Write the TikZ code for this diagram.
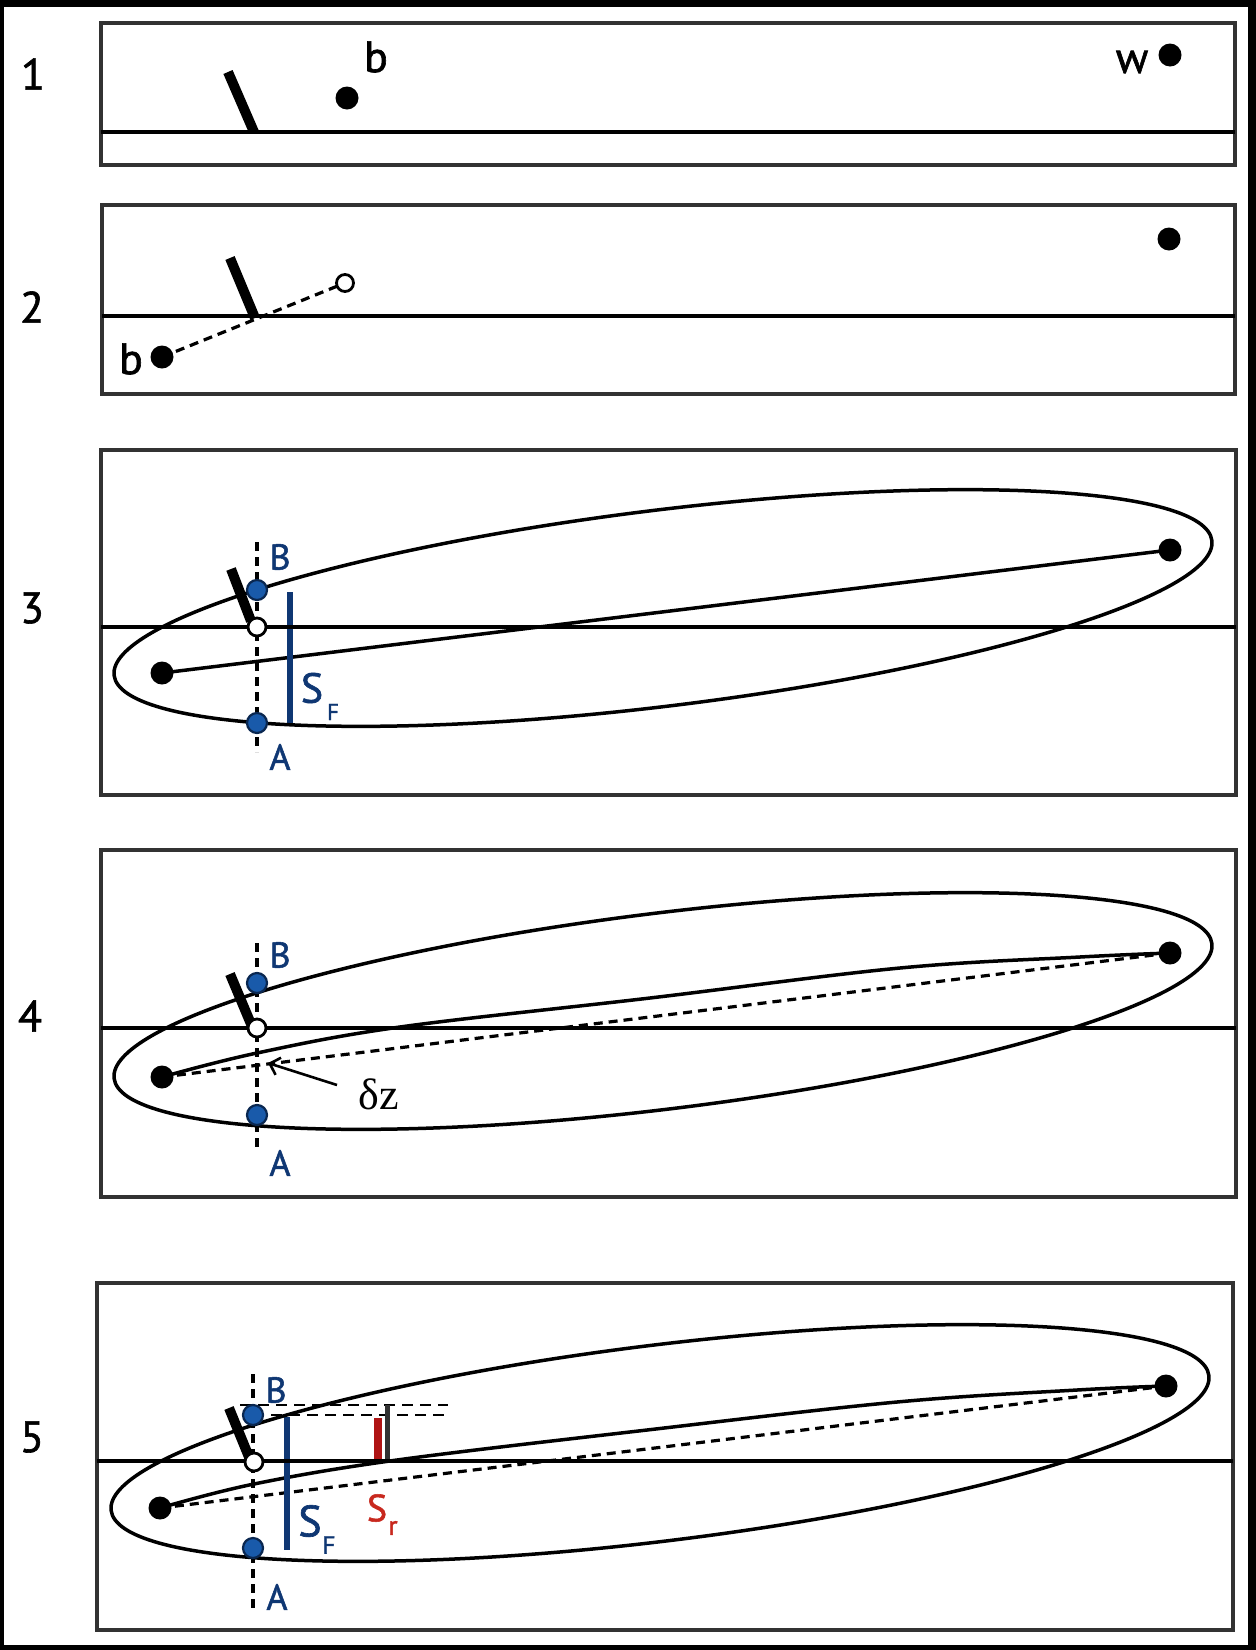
\documentclass[tikz,border=0pt]{standalone}
\usepackage{fontspec}
\setmainfont[FakeBold=1.4]{PT Sans}
\newfontfamily\serifgr{Liberation Serif}
\usetikzlibrary{arrows.meta}
\pgfdeclarelayer{back}
\pgfdeclarelayer{bg}
\pgfsetlayers{back,bg,main}
\definecolor{navy}{RGB}{15,55,115}
\definecolor{dotblue}{RGB}{25,90,170}
\definecolor{srred}{RGB}{200,40,30}
\definecolor{barred}{RGB}{175,20,20}
\definecolor{framegray}{RGB}{50,50,50}
\begin{document}
\begin{tikzpicture}[x=1pt,y=-1pt,
 panelbox/.style={draw=framegray,line width=3.8pt},
 hline/.style={line width=3.5pt},
 barrier/.style={line width=10pt},
 blackdot/.style={circle,fill=black,inner sep=0pt,minimum size=23pt},
 opendot/.style={circle,draw=black,fill=white,line width=2.8pt,inner sep=0pt,minimum size=18pt},
 bluedot/.style={circle,draw=navy!70!black,fill=dotblue,line width=2.2pt,inner sep=0pt,minimum size=20pt},
 dline/.style={line width=3.2pt,dash pattern=on 9pt off 6pt},
 hdline/.style={line width=2.8pt,dash pattern=on 11pt off 7pt},
 ell/.style={line width=3.5pt},
 lbl/.style={inner sep=0pt,font=\fontsize{44}{50}\selectfont},
 blbl/.style={inner sep=0pt,text=navy,font=\fontsize{36}{40}\selectfont},
 slbl/.style={inner sep=0pt,font=\fontsize{42}{46}\selectfont},
 sublbl/.style={inner sep=0pt,font=\fontsize{23}{25}\selectfont},
 sfbar/.style={draw=navy,line width=6.5pt},
]
\useasboundingbox (0,0) rectangle (1256,1650);
\begin{pgfonlayer}{back}
\fill[black] (0,0) rectangle (1256,1650);
\fill[white] (4,7) rectangle (1248,1645);
\end{pgfonlayer}

% ---------------- panel boxes and surface lines
\draw[panelbox] (101,23) rectangle (1235,165);
\draw[hline] (101,132) -- (1235,132);
\draw[panelbox] (102,205) rectangle (1235,394);
\draw[hline] (102,316) -- (1235,316);
\draw[panelbox] (101,450) rectangle (1236,795);
\draw[hline] (101,627) -- (1236,627);
\draw[panelbox] (101,850) rectangle (1236,1197);
\draw[hline] (101,1028) -- (1236,1028);
\draw[panelbox] (97,1283) rectangle (1233,1630);
\draw[hline] (97,1461) -- (1233,1461);

% ---------------- ellipses
\begin{scope}[shift={(663,608)},rotate=7]
 \draw[ell] (0,0) ellipse [x radius=553, y radius=98];
\end{scope}
\begin{scope}[shift={(663,1011)},rotate=7]
 \draw[ell] (0,0) ellipse [x radius=553, y radius=98];
\end{scope}
\begin{scope}[shift={(660,1443)},rotate=7]
 \draw[ell] (0,0) ellipse [x radius=553, y radius=98];
\end{scope}

% ---------------- panel numbers
\node[lbl] (n1) at (33,74) {1};
\node[lbl] (n2) at (32,307) {2};
\node[lbl] (n3) at (32,608) {3};
\node[lbl] (n4) at (30,1016) {4};
\node[lbl] (n5) at (32,1437) {5};

% ---------------- panel 1
\node[blackdot] (b1) at (347,98) {};
\node[blackdot] (w1) at (1170,55) {};
\node[lbl] (lb1) at (376,57) {b};
\node[lbl] (lw1) at (1132,62) {w};
\coordinate (W1t) at (228,72); \coordinate (W1b) at (254,132);

% ---------------- panel 2
\node[blackdot] (b2) at (162,357) {};
\node[opendot, minimum size=17pt] (o2) at (345,283) {};
\node[blackdot] (w2) at (1169,239) {};
\node[lbl] (lb2) at (131,359) {b};
\coordinate (W2t) at (230,258); \coordinate (W2b) at (255,318);

% ---------------- panel 3
\node[blackdot] (L3) at (162,673) {};
\node[blackdot] (R3) at (1170,550) {};
\node[opendot] (O3) at (257,627) {};
\node[bluedot] (B3) at (257,590) {};
\node[bluedot] (A3) at (257,723) {};
\coordinate (V3t) at (257,542); \coordinate (V3b) at (257,752);
\coordinate (W3t) at (231,569); \coordinate (W3b) at (251,621);
\coordinate (F3t) at (290,592); \coordinate (F3b) at (290,723);
\node[blbl] (lB3) at (280,557) {B};
\node[blbl] (lA3) at (280,757) {A};
\node[slbl,text=navy] (lS3) at (312,688) {S};
\node[sublbl,text=navy] (lF3) at (333,712) {F};

% ---------------- panel 4
\node[blackdot] (L4) at (162,1077) {};
\node[blackdot] (R4) at (1170,953) {};
\node[opendot] (O4) at (257,1028) {};
\node[bluedot] (B4) at (257,983) {};
\node[bluedot] (A4) at (257,1115) {};
\coordinate (V4t) at (257,943); \coordinate (V4b) at (257,1152);
\coordinate (W4t) at (230,974); \coordinate (W4b) at (251,1024);
\node[blbl] (lB4) at (280,955) {B};
\node[blbl] (lA4) at (280,1163) {A};
\node[inner sep=0pt,font=\serifgr\fontsize{44}{48}\selectfont] (dz) at (379,1094) {δz};
\coordinate (dzt) at (337,1085); \coordinate (dzh) at (268,1063);

% ---------------- panel 5
\node[blackdot] (L5) at (160,1508) {};
\node[blackdot] (R5) at (1166,1386) {};
\node[opendot] (O5) at (254,1462) {};
\node[bluedot] (B5) at (253,1415) {};
\node[bluedot] (A5) at (253,1548) {};
\coordinate (V5t) at (253,1374); \coordinate (V5b) at (253,1610);
\coordinate (W5t) at (229,1408); \coordinate (W5b) at (249,1457);
\coordinate (F5t) at (287,1417); \coordinate (F5b) at (287,1550);
\coordinate (H1s) at (240,1405); \coordinate (H1e) at (448,1405);
\coordinate (H2e) at (448,1415);
\coordinate (Rrt) at (378,1418); \coordinate (Rrb) at (378,1460);
\coordinate (Kt) at (387,1405); \coordinate (Kb) at (387,1460);
\node[blbl] (lB5) at (276,1390) {B};
\node[blbl] (lA5) at (277,1597) {A};
\node[slbl,text=navy,font=\fontsize{44}{48}\selectfont] (lS5) at (310,1521) {S};
\node[sublbl,text=navy,font=\fontsize{25}{27}\selectfont] (lF5) at (329,1545) {F};
\node[slbl,text=srred,font=\fontsize{38}{42}\selectfont] (lS5r) at (377,1508) {S};
\node[sublbl,text=srred,font=\fontsize{27}{29}\selectfont] (lr5) at (393,1528) {r};

% ---------------- connectors (under the dots)
\begin{pgfonlayer}{bg}
 % barriers
 \draw[barrier] (W1t) -- (W1b);
 \draw[barrier] (W2t) -- (W2b);
 \draw[barrier] (W3t) -- (W3b);
 \draw[barrier] (W4t) -- (W4b);
 \draw[barrier] (W5t) -- (W5b);
 % panel 2
 \draw[dline] (b2.center) -- (o2.center);
 % panel 3
 \draw[dline] (V3t) -- (V3b);
 \draw[ell] (L3.center) -- (R3.center);
 \draw[sfbar] (F3t) -- (F3b);
 % panel 4
 \draw[dline] (V4t) -- (V4b);
 \draw[dline] (L4.center) -- (R4.center);
 \draw[ell] plot[smooth,tension=0.6] coordinates {(L4.center) (257,1053) (400,1027) (650,998) (900,968) (1080,957) (R4.center)};
 % panel 5
 \draw[dline] (V5t) -- (V5b);
 \draw[dline] (L5.center) -- (R5.center);
 \draw[ell] plot[smooth,tension=0.6] coordinates {(L5.center) (254,1484) (397,1460) (647,1430) (897,1402) (1077,1390) (R5.center)};
 \draw[sfbar] (F5t) -- (F5b);
 \draw[hdline] (H1s) -- (H1e);
 \draw[hdline] (B5.center) -- (H2e);
 \draw[draw=barred,line width=8pt] (Rrt) -- (Rrb);
 \draw[draw=framegray,line width=5pt] (Kt) -- (Kb);
\end{pgfonlayer}
\draw[line width=2.6pt,-{Straight Barb[length=9pt,width=18pt]}] (dzt) -- (dzh);
\end{tikzpicture}
\end{document}
